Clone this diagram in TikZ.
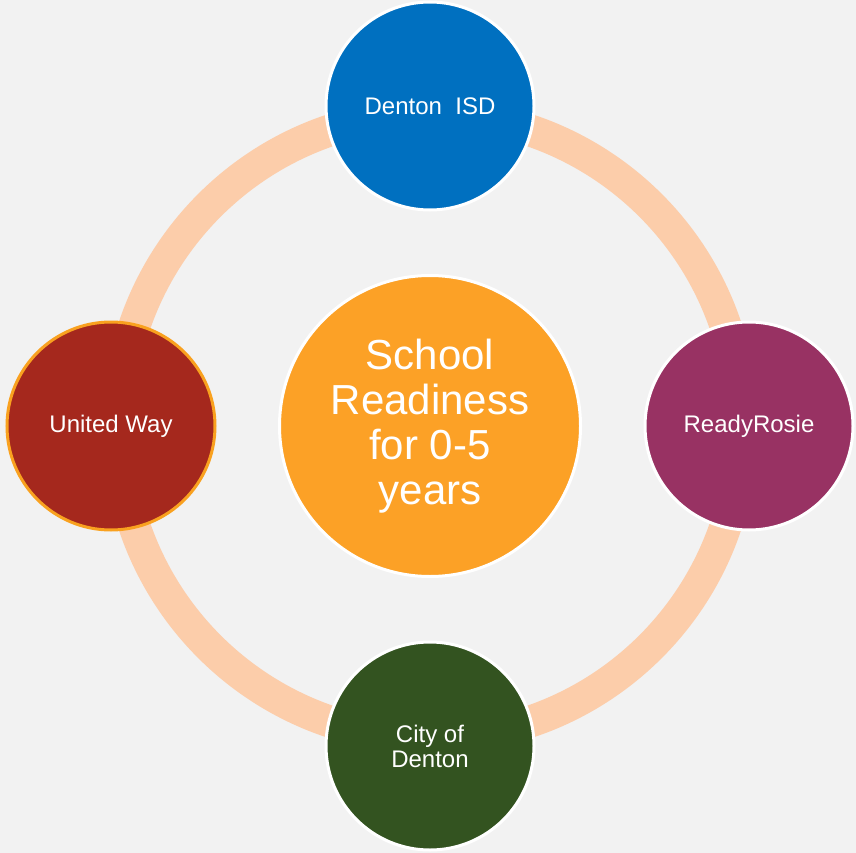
\documentclass[tikz,border=0pt]{standalone}
\usepackage{fontspec}
\setmainfont{Liberation Sans}
\definecolor{bgcol}{HTML}{F2F2F2}
\definecolor{ringcol}{HTML}{FCCDAA}
\definecolor{isdblue}{HTML}{0070C0}
\definecolor{rosiecol}{HTML}{983263}
\definecolor{citygreen}{HTML}{335320}
\definecolor{wayred}{HTML}{A5281D}
\definecolor{hubora}{HTML}{FCA126}
\definecolor{rimora}{HTML}{F9A11F}
\begin{document}
\begin{tikzpicture}[x=1pt,y=-1pt,
  bubble/.style={circle, draw=white, line width=3pt, minimum size=208pt, inner sep=0pt,
    text=white, align=center, font=\fontsize{24}{25}\selectfont},
  hubbubble/.style={bubble, minimum size=301pt, font=\fontsize{42}{45}\selectfont},
  ringline/.style={draw=ringcol, line width=32pt}
]
\fill[bgcol] (0,0) rectangle (856,853);
\useasboundingbox (0,0) rectangle (856,853);
\coordinate (hub) at (430,426);
\draw[ringline] (hub) circle[radius=312];
\node[hubbubble, fill=hubora] (center) at (hub) {School\\Readiness\\for 0-5\\years};
\node[bubble, fill=isdblue] (isd) at (430,106) {Denton\ \ ISD};
\node[bubble, fill=rosiecol] (rosie) at (749,426) {ReadyRosie};
\node[bubble, fill=citygreen] (city) at (430,746) {City of\\Denton};
\node[bubble, fill=wayred, draw=rimora] (uway) at (111,426) {United Way};
\end{tikzpicture}
\end{document}
